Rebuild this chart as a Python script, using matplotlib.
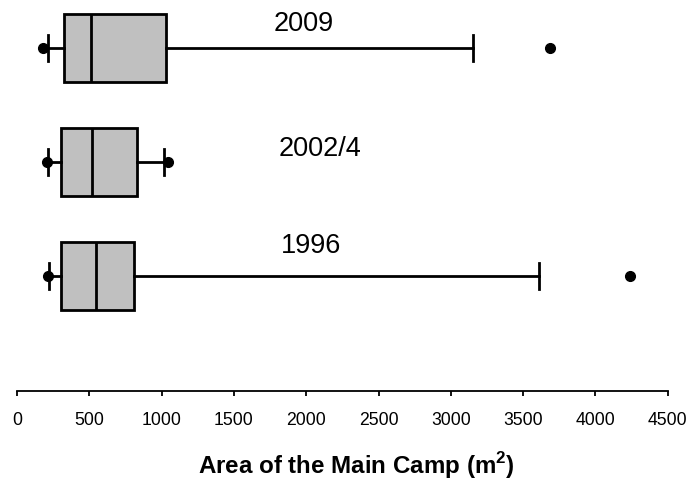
import matplotlib
matplotlib.use("Agg")
import matplotlib.pyplot as plt

plt.rcParams['font.family'] = ['Liberation Sans', 'DejaVu Sans']
plt.rcParams['mathtext.fontset'] = 'custom'
plt.rcParams['mathtext.rm'] = 'Liberation Sans'
plt.rcParams['mathtext.bf'] = 'Liberation Sans:bold'

# Data, order: 1996, 2002/4, 2009 (bottom to top)
labels = ["1996", "2002/4", "2009"]
q1 = [304, 304, 325]
median = [546, 521, 510]
q3 = [810, 828, 1028]
whisker_lo = [221, 216, 212]
whisker_hi = [3610, 1019, 3156]
fliers = [[212, 4240], [205, 1046], [182, 3686]]
label_x = [2033, 2093, 1985]
ticks = [0, 500, 1000, 1500, 2000, 2500, 3000, 3500, 4000, 4500]

fig = plt.figure(figsize=(6.9, 4.8), dpi=100)
ax = fig.add_axes([17 / 690, 89 / 480, (667.7 - 17) / 690, 391 / 480])

positions = [1, 2, 3]
stats = []
for i in range(3):
    stats.append(dict(med=median[i], q1=q1[i], q3=q3[i],
                      whislo=whisker_lo[i], whishi=whisker_hi[i],
                      fliers=fliers[i], label=labels[i]))

ax.bxp(stats, positions=positions, vert=False, widths=0.6, capwidths=0.23,
       patch_artist=True, showfliers=True,
       boxprops=dict(facecolor='#c0c0c0', edgecolor='black', linewidth=2),
       medianprops=dict(color='black', linewidth=2),
       whiskerprops=dict(color='black', linewidth=2),
       capprops=dict(color='black', linewidth=2),
       flierprops=dict(marker='o', markerfacecolor='black', markeredgecolor='black',
                       markersize=7, linestyle='none'))

# year labels above boxes
label_y = [1.199, 2.057, 3.155]
for i in range(3):
    ax.text(label_x[i], label_y[i], labels[i], ha='center', va='baseline', fontsize=19.5)

ax.set_xlim(0, 4500)
ax.set_ylim(-0.01, 3.424)
ax.set_xticks(ticks)
ax.set_xticklabels([str(t) for t in ticks], fontsize=12.7)
ax.tick_params(axis='x', direction='out', length=3.5, width=1.3, pad=11.5)
ax.set_yticks([])
for s in ['top', 'right', 'left']:
    ax.spines[s].set_visible(False)
ax.spines['bottom'].set_linewidth(1.3)
ax.set_facecolor('none')

fig.text(356.5 / 690, 6 / 480, r'Area of the Main Camp (m$^{\mathbf{2}}$)',
         ha='center', va='baseline', fontsize=17.4, fontweight='bold')

fig.savefig('out.png', dpi=100)
